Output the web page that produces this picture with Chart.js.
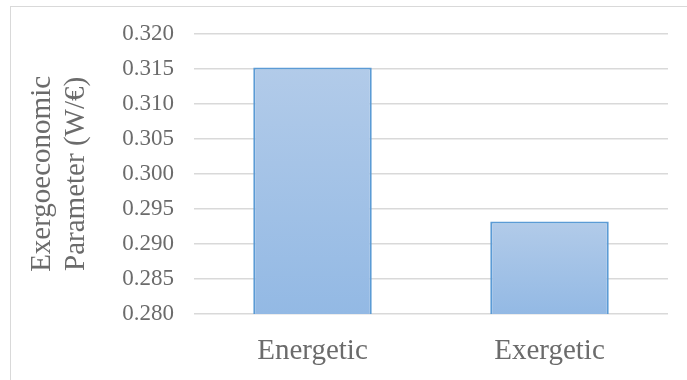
<!DOCTYPE html>
<html>
<head>
<meta charset="utf-8">
<script src="https://cdn.jsdelivr.net/npm/chart.js@4"></script>
<style>
  html, body { margin: 0; padding: 0; background: #fff; }
  #wrap { position: relative; width: 687px; height: 380px; overflow: hidden; }
  #frame {
    position: absolute; left: 10px; top: 6px; right: 0; bottom: 0;
    border-top: 1px solid #d9d9d9; border-left: 1px solid #d9d9d9;
    pointer-events: none;
  }
  canvas { position: absolute; left: 0; top: 0; }
</style>
</head>
<body>
<div id="wrap">
  <canvas id="chart" width="687" height="380"></canvas>
  <div id="frame"></div>
</div>
<script>
// Data
const categories = ['Energetic', 'Exergetic'];
const values = [0.3152, 0.2932];
const yTitle = ['Exergoeconomic', 'Parameter (W/€)'];

const textColor = '#6b6b6b';
const gridColor = '#d9d9d9';
const serif = '"Liberation Serif", "Times New Roman", serif';

// per-bar vertical gradient, light at the top
function barGradient(context) {
    const chart = context.chart;
    const area = chart.chartArea;
    if (!area || context.parsed == null) return '#a3c1e6';
    const top = chart.scales.y.getPixelForValue(context.parsed.y);
    const g = chart.ctx.createLinearGradient(0, top, 0, area.bottom);
    g.addColorStop(0, '#b2cbe9');
    g.addColorStop(1, '#93b9e4');
    return g;
}

const ctx = document.getElementById('chart').getContext('2d');

new Chart(ctx, {
    type: 'bar',
    data: {
        labels: categories,
        datasets: [{
            data: values,
            backgroundColor: barGradient,
            borderColor: '#5b9bd5',
            borderWidth: 2,
            categoryPercentage: 1,
            barPercentage: 0.5
        }]
    },
    options: {
        responsive: false,
        animation: false,
        events: [],
        layout: {
            padding: { left: 0, right: 19, top: 26, bottom: 0 }
        },
        plugins: {
            legend: { display: false },
            tooltip: { enabled: false }
        },
        scales: {
            x: {
                afterFit: (scale) => { scale.height = 66; },
                grid: { display: false },
                border: { display: false },
                ticks: {
                    color: textColor,
                    font: { family: serif, size: 29 },
                    padding: 12,
                    maxRotation: 0
                }
            },
            y: {
                min: 0.28,
                max: 0.32,
                afterFit: (scale) => { scale.width = 194; },
                border: { display: false },
                grid: {
                    color: gridColor,
                    lineWidth: 1.5,
                    drawTicks: false
                },
                ticks: {
                    stepSize: 0.005,
                    color: textColor,
                    padding: 20,
                    font: { family: serif, size: 23 },
                    callback: (v) => v.toFixed(3)
                },
                title: {
                    display: true,
                    text: yTitle,
                    color: textColor,
                    font: { family: serif, size: 29, lineHeight: 1.15 },
                    padding: { top: 26, bottom: 0 }
                }
            }
        }
    }
});
</script>
</body>
</html>
